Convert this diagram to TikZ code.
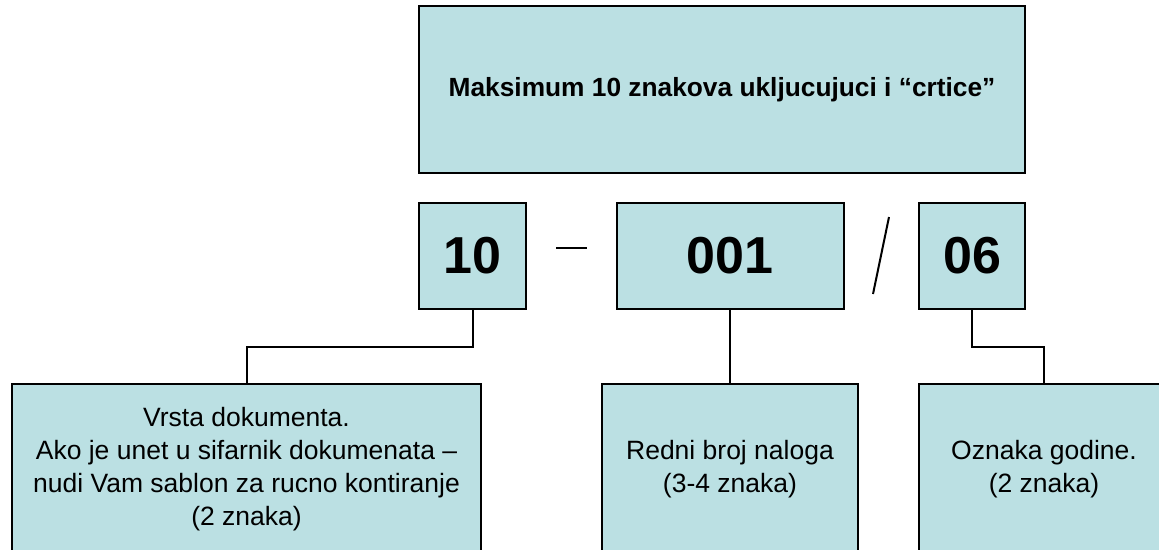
\documentclass[tikz,border=0pt]{standalone}
\usepackage{fontspec}
\setmainfont{Liberation Sans}
\usepackage{tikz}
\usetikzlibrary{shapes,arrows}
\definecolor{boxfill}{RGB}{187,224,227}

\begin{document}
\begin{tikzpicture}[x=1pt, y=-1pt]
    % Define block styles
    \tikzstyle{block} = [rectangle, draw, fill=boxfill, line width=2pt,
        inner sep=0pt, align=center]
    \tikzstyle{numblock} = [block, minimum height=106pt,
        font=\fontsize{52}{58}\selectfont\bfseries]
    \tikzstyle{textblock} = [block, minimum height=170pt,
        font=\fontsize{26.5}{33}\selectfont]
    \tikzstyle{line} = [draw, line width=2pt]

    \clip (0,0) rectangle (1159,549);

    % Place nodes
    \node [block, minimum width=606pt, minimum height=167pt,
        font=\fontsize{26.3}{31}\selectfont\bfseries] (max) at (722,89.5)
        {Maksimum 10 znakova ukljucujuci i “crtice”};
    \node [numblock, minimum width=107pt] (vrsta) at (472.5,256) {10};
    \node [numblock, minimum width=227pt] (broj) at (730,256) {001};
    \node [numblock, minimum width=106pt] (godina) at (972,256) {06};
    \node [textblock, minimum width=469pt] (vrstatxt) at (246.5,469)
        {Vrsta dokumenta.\\ Ako je unet u sifarnik dokumenata –\\
         nudi Vam sablon za rucno kontiranje\\ (2 znaka)};
    \node [textblock, minimum width=256pt] (brojtxt) at (730,469)
        {Redni broj naloga\\ (3-4 znaka)};
    \node [textblock, minimum width=250pt] (godinatxt) at (1044,469)
        {Oznaka godine.\\ (2 znaka)};

    % Separators
    \coordinate (dashl) at (556,248);
    \coordinate (dashr) at (587,248);
    \coordinate (slashb) at (873,294);
    \coordinate (slasht) at (889,217);
    \path [line] (dashl) -- (dashr);
    \path [line] (slashb) -- (slasht);

    % Draw edges
    \path [line] (vrsta.south) -- ++(0,37) -| (vrstatxt.north);
    \path [line] (broj.south) -- (brojtxt.north);
    \path [line] (godina.south) -- ++(0,37) -| (godinatxt.north);
\end{tikzpicture}
\end{document}
